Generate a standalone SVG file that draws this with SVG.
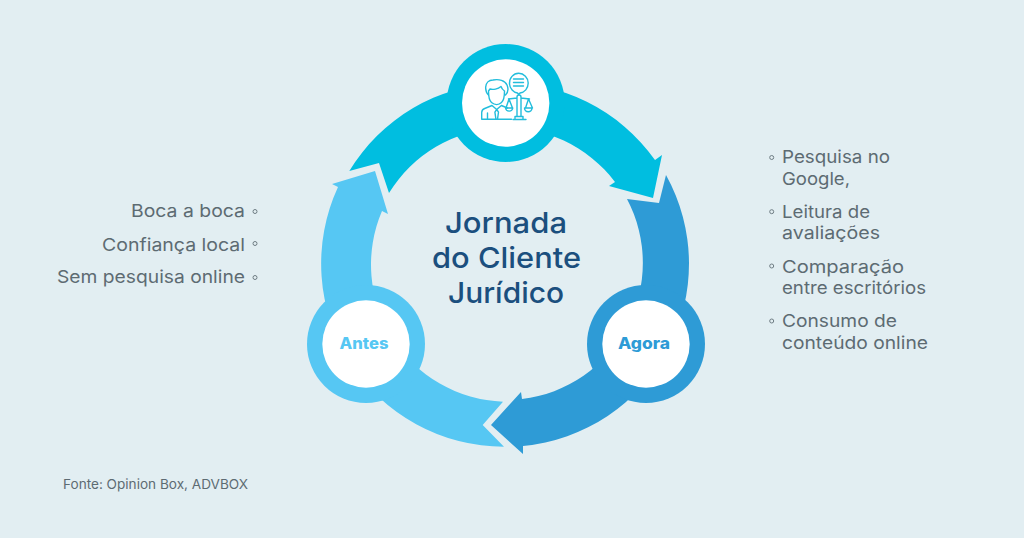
<svg xmlns="http://www.w3.org/2000/svg" width="1024" height="538" viewBox="0 0 1024 538">
<style>
text{font-family:Inter,"Open Sans","Liberation Sans",sans-serif}
.t{font-size:29px;font-weight:500;fill:#1b4f7e;text-anchor:middle}
.b{font-size:17.500px;fill:#5d6b72}
.e{text-anchor:end}
.d{fill:none;stroke:#6f7d84;stroke-width:1}
.l{font-size:15.500px;font-weight:800;text-anchor:middle}
.w{fill:#fff}
.i{fill:none;stroke:#22bddc;stroke-width:1.400;stroke-linejoin:round;stroke-linecap:round}
</style>
<rect width="1024" height="538" fill="#e2eef2"/>
<g id="connectors">
<path fill="#00bee0" d="M349.300 171L379 163L389 193A137 137 0 0 1 615 182L609 186L653 198L662 155L655 160A183 183 0 0 0 349.300 171Z"/>
<path fill="#2e9bd6" d="M627 199L659 203L666 175A183 183 0 0 1 523 446L523 454L491 425L521 392L522 399A137 137 0 0 0 627 199Z"/>
<path fill="#56c7f3" d="M503 401.700L482.700 425L504 446.700A183 183 0 0 1 338 187L332 184L375 171L388 214L382 211A137 137 0 0 0 503 401.700Z"/>
</g>
<g id="node-top">
<circle cx="505.700" cy="103" r="59" fill="#00bee0"/>
<circle class="w" cx="505.700" cy="103" r="43.700"/>
<g class="i">
<path d="M488.500 91c0 5 0 9 3 11.500 3.200 2.600 7.300 2.600 10 0 3-2.500 3-6.500 3-11.500-1.500-1-3-3-3.500-4.500-3 2.500-8 3.500-11 2.500z"/>
<path d="M488.500 95c-2-2-3-5-2.800-8 .3-4 3-7 7.300-7 6-1.200 12 .5 14 5 1.500 3.500 1 7.500-1.500 10"/>
<path d="M481.700 119.300v-6.800c0-2 1-3.200 3-4l7.300-3 4.700 4 4.700-4 6 2.500M481.700 119.300h29.800M487.500 119v-6M496.700 109.500l-1.800 2.700 1 7M496.700 109.500l1.800 2.700-1 7"/>
<path d="M509.500 84c.3 4.500 4 8.500 8 9l1.200 1.500 1.300-1.500c4.500-.5 8.200-4.500 8.200-10 0-5.300-4.300-9.700-9.500-9.700s-9.700 4.700-9.200 10.700z"/>
<path d="M513.500 79h10M513.500 82.500h10M513.500 86h10"/>
<path d="M517 97v19.500M521 97v19.500M517 97a2 2 0 0 1 4 0M508.500 99l8.500-1M529.500 99l-8.500-1M515 116.500h8v3h-8zM513 119.500h13"/>
<path d="M509 99l-3 9h6.500zM528.500 99l-3 9h7zM505.500 108a3.700 3.700 0 0 0 7.300 0zM524.500 108a3.700 3.700 0 0 0 7.500 0z"/>
</g>
</g>
<g id="node-agora">
<circle cx="646" cy="344" r="59" fill="#2e9bd6"/>
<circle class="w" cx="646" cy="344" r="43.700"/>
<text class="l" x="644" y="349" fill="#2e9bd6" textLength="52" lengthAdjust="spacingAndGlyphs">Agora</text>
</g>
<g id="node-antes">
<circle cx="366" cy="344" r="59" fill="#56c7f3"/>
<circle class="w" cx="366" cy="344" r="43.700"/>
<text class="l" x="364" y="349" fill="#56c7f3" textLength="49" lengthAdjust="spacingAndGlyphs">Antes</text>
</g>
<g id="title">
<text class="t" x="506" y="233" textLength="122" lengthAdjust="spacingAndGlyphs">Jornada</text>
<text class="t" x="506.500" y="268" textLength="149" lengthAdjust="spacingAndGlyphs">do Cliente</text>
<text class="t" x="506" y="303" textLength="116" lengthAdjust="spacingAndGlyphs">Jurídico</text>
</g>
<g id="list-left">
<text class="b e" x="245" y="217" textLength="114" lengthAdjust="spacingAndGlyphs">Boca a boca</text>
<text class="b e" x="245" y="250.500" textLength="143" lengthAdjust="spacingAndGlyphs">Confiança local</text>
<text class="b e" x="245" y="283" textLength="188" lengthAdjust="spacingAndGlyphs">Sem pesquisa online</text>
<circle class="d" cx="255" cy="211.500" r="2"/>
<circle class="d" cx="255" cy="243.500" r="2"/>
<circle class="d" cx="255" cy="277.500" r="2"/>
</g>
<g id="list-right">
<circle class="d" cx="771.700" cy="157.500" r="2"/>
<circle class="d" cx="771.700" cy="211.700" r="2"/>
<circle class="d" cx="771.700" cy="266" r="2"/>
<circle class="d" cx="771.700" cy="321" r="2"/>
<text class="b" x="782" y="163.300" textLength="108" lengthAdjust="spacingAndGlyphs">Pesquisa no</text>
<text class="b" x="782" y="184.500" textLength="68" lengthAdjust="spacingAndGlyphs">Google,</text>
<text class="b" x="782" y="218" textLength="88" lengthAdjust="spacingAndGlyphs">Leitura de</text>
<text class="b" x="782" y="239" textLength="98" lengthAdjust="spacingAndGlyphs">avaliações</text>
<text class="b" x="782" y="272.700" textLength="122" lengthAdjust="spacingAndGlyphs">Comparação</text>
<text class="b" x="782" y="294" textLength="144" lengthAdjust="spacingAndGlyphs">entre escritórios</text>
<text class="b" x="782" y="327" textLength="115" lengthAdjust="spacingAndGlyphs">Consumo de</text>
<text class="b" x="782" y="348.700" textLength="146" lengthAdjust="spacingAndGlyphs">conteúdo online</text>
</g>
<text x="63" y="489" font-size="13" fill="#5d6b72" textLength="185" lengthAdjust="spacingAndGlyphs">Fonte: Opinion Box, ADVBOX</text>
</svg>
